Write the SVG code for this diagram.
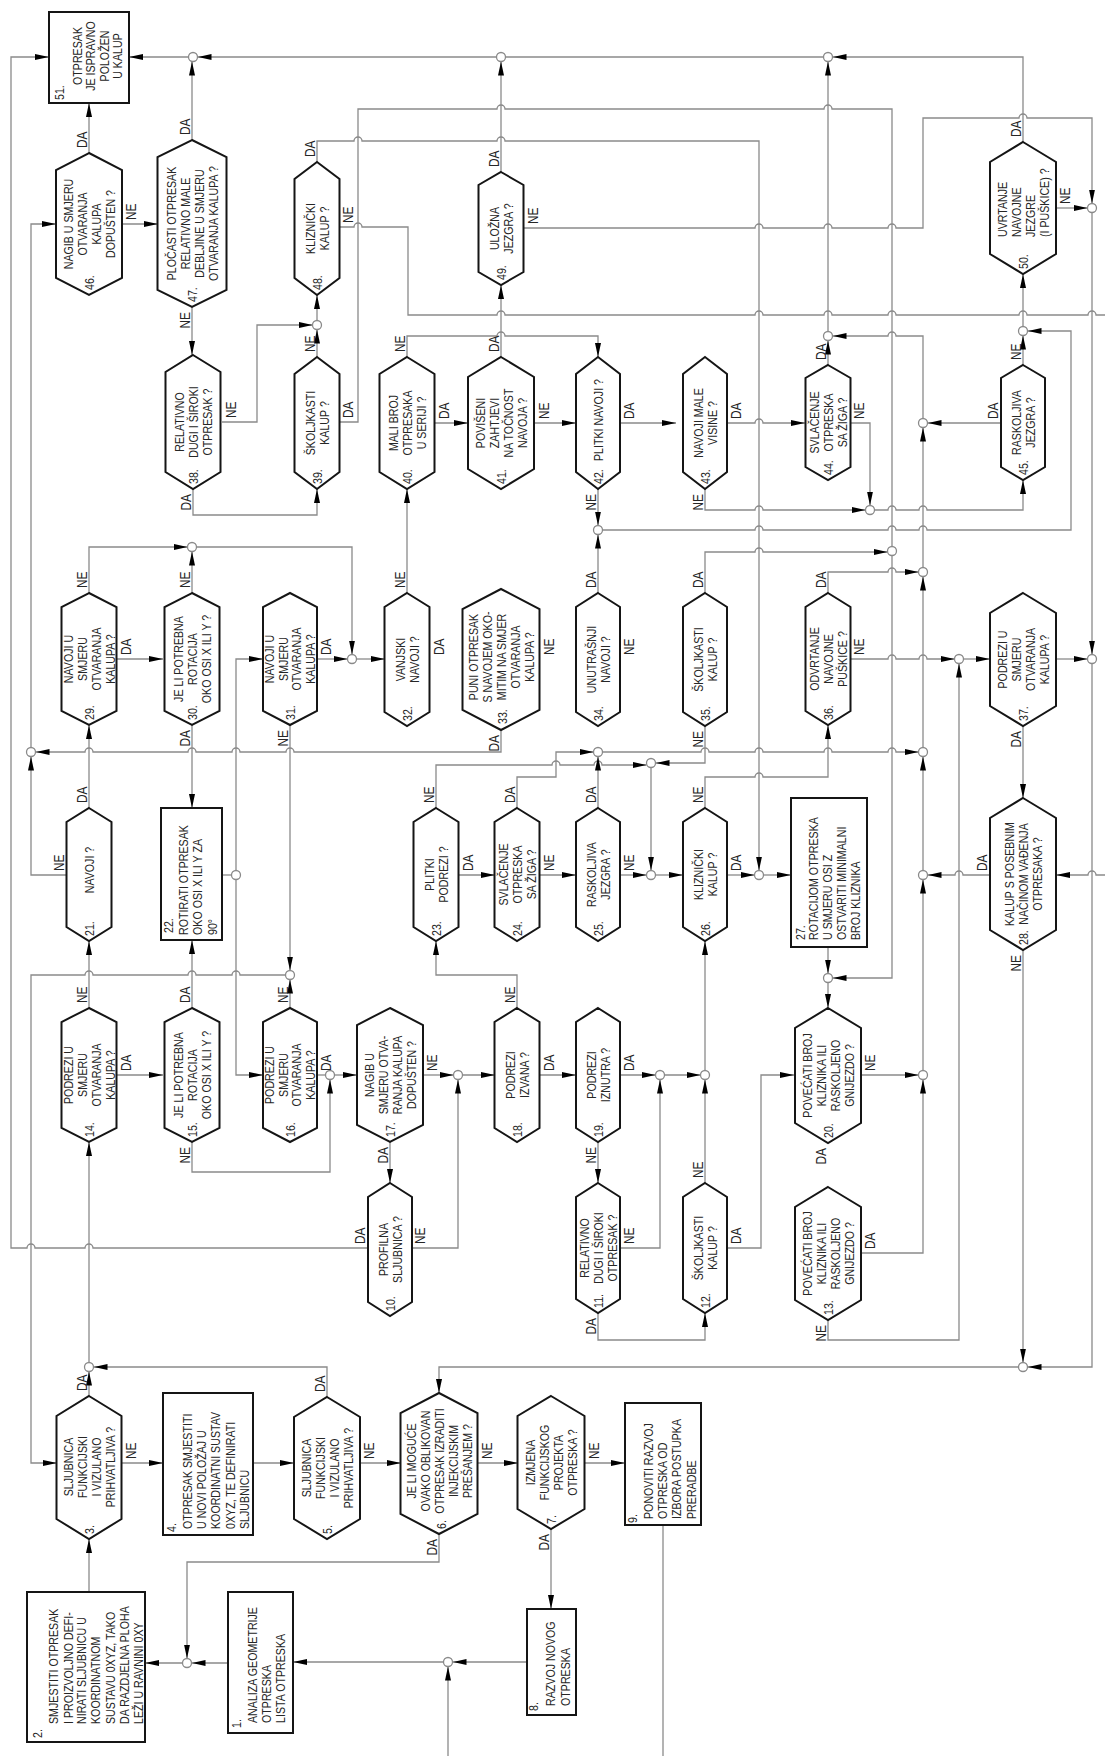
<svg xmlns="http://www.w3.org/2000/svg" width="1105" height="1756" viewBox="0 0 1105 1756">
<defs>
<marker id="ah" viewBox="0 0 14 6" markerWidth="14" markerHeight="6" refX="14" refY="3" orient="auto" markerUnits="userSpaceOnUse"><path d="M0,0 L14,3 L0,6 Z" fill="#000"/></marker>
<style>
.n{fill:#fff;stroke:#151515;stroke-width:2}
.c{fill:none;stroke:#8a8a8a;stroke-width:1.3}
.a{marker-end:url(#ah)}
.j{fill:#fff;stroke:#8a8a8a;stroke-width:1.3}
.t{font-family:"Liberation Sans",Arial,sans-serif;font-size:13px;fill:#262626}
.m{text-anchor:middle}
.l{font-family:"Liberation Sans",Arial,sans-serif;font-size:14px;fill:#262626}
.e{text-anchor:end}
</style>
</defs>
<rect width="1105" height="1756" fill="#fff"/>
<g id="connectors">
<path class="c a" d="M823.5,57 H197.5"/>
<path class="c a" d="M188.5,57 H129"/>
<path class="c a" d="M1023,142 V57 H832.5"/>
<path class="c a" d="M828,331.5 V61.5"/>
<path class="c a" d="M501,172 V61.5"/>
<path class="c a" d="M192,140 V61.5"/>
<path class="c a" d="M89,153 V103"/>
<path class="c a" d="M368,1248 H93 a4,4 0 0 0 -8,0 H35 a4,4 0 0 0 -8,0 H11 V57 H49"/>
<path class="c a" d="M31,747.5 V224 H56"/>
<path class="c a" d="M122,224 H158"/>
<path class="c a" d="M192,307 V355"/>
<path class="c a" d="M317,162 V141 H354 a4,4 0 0 1 8,0 H497 a4,4 0 0 1 8,0 H759 V870.5"/>
<path class="c" d="M339,227 H354 a4,4 0 0 1 8,0 H408 V315 H497 a4,4 0 0 1 8,0 H755 a4,4 0 0 1 8,0 H824 a4,4 0 0 1 8,0 H888 a4,4 0 0 1 8,0 H1019 a4,4 0 0 1 8,0 H1088 a4,4 0 0 1 8,0 H1105"/>
<path class="c a" d="M1105,875 H1096 a4,4 0 0 0 -8,0 H1056"/>
<path class="c a" d="M524,228 H755 a4,4 0 0 1 8,0 H824 a4,4 0 0 1 8,0 H888 a4,4 0 0 1 8,0 H923 V118 H1019 a4,4 0 0 1 8,0 H1092 V203.5"/>
<path class="c a" d="M1056,208 H1087.5"/>
<path class="c a" d="M1092,212.5 V654.5"/>
<path class="c" d="M339,422 H358 V109 H497 a4,4 0 0 1 8,0 H824 a4,4 0 0 1 8,0 H892 V546.5"/>
<path class="c a" d="M705,593 V552 H755 a4,4 0 0 1 8,0 H887.5"/>
<path class="c a" d="M892,555.5 V978 H832.5"/>
<path class="c a" d="M828,947 V973.5"/>
<path class="c a" d="M828,982.5 V1008"/>
<path class="c a" d="M861,1075 H918.5"/>
<path class="c a" d="M861,1253 H923 V1079.5"/>
<path class="c a" d="M923,1070.5 V879.5"/>
<path class="c a" d="M923,870.5 V756.5"/>
<path class="c a" d="M923,747.5 V576.5"/>
<path class="c a" d="M923,567.5 V427.5"/>
<path class="c a" d="M923,418.5 V336 H896 a4,4 0 0 0 -8,0 H832.5"/>
<path class="c a" d="M990,875 H963 a4,4 0 0 0 -8,0 H927.5"/>
<path class="c a" d="M828,593 V572 H888 a4,4 0 0 1 8,0 H918.5"/>
<path class="c a" d="M850,659 H888 a4,4 0 0 1 8,0 H919 a4,4 0 0 1 8,0 H954.5"/>
<path class="c a" d="M828,1320 V1340 H959 V663.5"/>
<path class="c a" d="M963.5,659 H990"/>
<path class="c a" d="M1056,659 H1087.5"/>
<path class="c a" d="M1092,663.5 V1367 H1027.5"/>
<path class="c a" d="M1023,726 V798"/>
<path class="c a" d="M1023,950 V1362.5"/>
<path class="c a" d="M1018.5,1367 H439 V1393"/>
<path class="c a" d="M1023,365 V335.5"/>
<path class="c a" d="M1023,326.5 V274"/>
<path class="c a" d="M602.5,530 H755 a4,4 0 0 1 8,0 H888 a4,4 0 0 1 8,0 H919 a4,4 0 0 1 8,0 H1071 V331 H1027.5"/>
<path class="c a" d="M598,593 V534.5"/>
<path class="c a" d="M598,489 V525.5"/>
<path class="c a" d="M705,489 V510 H755 a4,4 0 0 1 8,0 H865.5"/>
<path class="c a" d="M874.5,510 H888 a4,4 0 0 1 8,0 H919 a4,4 0 0 1 8,0 H1023 V480"/>
<path class="c a" d="M850,423 H870 V505.5"/>
<path class="c a" d="M828,365 V340.5"/>
<path class="c a" d="M1001,423 H927.5"/>
<path class="c a" d="M727,423 H755 a4,4 0 0 1 8,0 H805"/>
<path class="c a" d="M620,423 H676"/>
<path class="c a" d="M535,423 H576"/>
<path class="c a" d="M435,423 H468"/>
<path class="c a" d="M407,357 V336 H497 a4,4 0 0 1 8,0 H598 V357"/>
<path class="c a" d="M501,357 V285"/>
<path class="c a" d="M407,593 V489"/>
<path class="c a" d="M317,357 V329.5"/>
<path class="c a" d="M317,320.5 V295"/>
<path class="c a" d="M222,422 H257 V325 H312.5"/>
<path class="c a" d="M193,489 V515 H317 V489"/>
<path class="c a" d="M89,593 V547 H187.5"/>
<path class="c a" d="M192,593 V551.5"/>
<path class="c a" d="M196.5,547 H352 V654.5"/>
<path class="c a" d="M117,659 H163"/>
<path class="c a" d="M317,659 H347.5"/>
<path class="c a" d="M356.5,659 H385"/>
<path class="c a" d="M89,808 V725"/>
<path class="c a" d="M192,725 V808"/>
<path class="c a" d="M290,725 V970.5"/>
<path class="c a" d="M501,730 V752 H294 a4,4 0 0 0 -8,0 H240 a4,4 0 0 0 -8,0 H196 a4,4 0 0 0 -8,0 H93 a4,4 0 0 0 -8,0 H35.5"/>
<path class="c a" d="M67,875 H31 V756.5"/>
<path class="c" d="M222,875 H231.5"/>
<path class="c a" d="M236,870.5 V659 H263"/>
<path class="c a" d="M236,879.5 V1075 H263"/>
<path class="c a" d="M290,1008 V979.5"/>
<path class="c a" d="M285.5,975 H240 a4,4 0 0 0 -8,0 H196 a4,4 0 0 0 -8,0 H93 a4,4 0 0 0 -8,0 H31 V1463 H57"/>
<path class="c a" d="M89,1008 V941"/>
<path class="c a" d="M192,1008 V940"/>
<path class="c a" d="M117,1075 H163"/>
<path class="c a" d="M192,1142 V1172 H330 V1079.5"/>
<path class="c" d="M317,1075 H325.5"/>
<path class="c a" d="M334.5,1075 H357"/>
<path class="c a" d="M390,1142 V1183"/>
<path class="c a" d="M423,1075 H453.5"/>
<path class="c a" d="M462.5,1075 H495"/>
<path class="c a" d="M411,1248 H458 V1079.5"/>
<path class="c a" d="M517,1008 V975 H436 V941"/>
<path class="c a" d="M540,1075 H576"/>
<path class="c a" d="M620,1075 H655.5"/>
<path class="c a" d="M664.5,1075 H700.5"/>
<path class="c a" d="M705,1070.5 V941"/>
<path class="c a" d="M598,1142 V1183"/>
<path class="c a" d="M620,1248 H660 V1079.5"/>
<path class="c a" d="M705,1183 V1079.5"/>
<path class="c a" d="M598,1313 V1340 H705 V1313"/>
<path class="c a" d="M727,1248 H761 V1075 H794"/>
<path class="c a" d="M436,808 V765 H552 a4,4 0 0 1 8,0 H594 a4,4 0 0 1 8,0 H646.5"/>
<path class="c a" d="M517,808 V777 H556 V752 H593.5"/>
<path class="c a" d="M598,808 V756.5"/>
<path class="c a" d="M705,726 V763 H655.5"/>
<path class="c a" d="M651,767.5 V870.5"/>
<path class="c a" d="M459,875 H495"/>
<path class="c a" d="M540,875 H576"/>
<path class="c a" d="M620,875 H646.5"/>
<path class="c a" d="M655.5,875 H683"/>
<path class="c a" d="M602.5,752 H701 a4,4 0 0 1 8,0 H755 a4,4 0 0 1 8,0 H824 a4,4 0 0 1 8,0 H888 a4,4 0 0 1 8,0 H918.5"/>
<path class="c a" d="M705,808 V777 H755 a4,4 0 0 1 8,0 H828 V725"/>
<path class="c a" d="M727,875 H754.5"/>
<path class="c a" d="M763.5,875 H791"/>
<path class="c a" d="M89,1396 V1371.5"/>
<path class="c a" d="M89,1362.5 V1142"/>
<path class="c a" d="M327,1397 V1367 H93.5"/>
<path class="c a" d="M122,1463 H163"/>
<path class="c a" d="M253,1463 H294"/>
<path class="c a" d="M360,1463 H401"/>
<path class="c a" d="M478,1463 H518"/>
<path class="c a" d="M585,1463 H625"/>
<path class="c a" d="M89,1592 V1539"/>
<path class="c a" d="M439,1534 V1562 H187 V1658.5"/>
<path class="c a" d="M228,1663 H191.5"/>
<path class="c a" d="M182.5,1663 H145"/>
<path class="c a" d="M551,1529 V1609"/>
<path class="c a" d="M527,1662 H452.5"/>
<path class="c a" d="M443.5,1662 H293"/>
<path class="c a" d="M448,1756 V1666.5"/>
<path class="c" d="M663,1525 V1756"/>
<g id="junctions">
<circle class="j" cx="193" cy="57" r="4.5"/><circle class="j" cx="501" cy="57" r="4.5"/><circle class="j" cx="828" cy="57" r="4.5"/>
<circle class="j" cx="317" cy="325" r="4.5"/><circle class="j" cx="828" cy="336" r="4.5"/><circle class="j" cx="1023" cy="331" r="4.5"/>
<circle class="j" cx="1092" cy="208" r="4.5"/><circle class="j" cx="923" cy="423" r="4.5"/><circle class="j" cx="870" cy="510" r="4.5"/>
<circle class="j" cx="598" cy="530" r="4.5"/><circle class="j" cx="892" cy="551" r="4.5"/><circle class="j" cx="923" cy="572" r="4.5"/>
<circle class="j" cx="192" cy="547" r="4.5"/><circle class="j" cx="352" cy="659" r="4.5"/><circle class="j" cx="959" cy="659" r="4.5"/>
<circle class="j" cx="1092" cy="659" r="4.5"/><circle class="j" cx="31" cy="752" r="4.5"/><circle class="j" cx="598" cy="752" r="4.5"/>
<circle class="j" cx="923" cy="752" r="4.5"/><circle class="j" cx="651" cy="763" r="4.5"/><circle class="j" cx="236" cy="875" r="4.5"/>
<circle class="j" cx="651" cy="875" r="4.5"/><circle class="j" cx="759" cy="875" r="4.5"/><circle class="j" cx="923" cy="875" r="4.5"/>
<circle class="j" cx="290" cy="975" r="4.5"/><circle class="j" cx="828" cy="978" r="4.5"/><circle class="j" cx="330" cy="1075" r="4.5"/>
<circle class="j" cx="458" cy="1075" r="4.5"/><circle class="j" cx="660" cy="1075" r="4.5"/><circle class="j" cx="705" cy="1075" r="4.5"/>
<circle class="j" cx="923" cy="1075" r="4.5"/><circle class="j" cx="89" cy="1367" r="4.5"/><circle class="j" cx="1023" cy="1367" r="4.5"/>
<circle class="j" cx="187" cy="1663" r="4.5"/><circle class="j" cx="448" cy="1662" r="4.5"/>
</g>
</g>
<g id="labels">
<text class="l" transform="translate(0,148) rotate(-90) scale(.85,1)" y="87">DA</text>
<text class="l" transform="translate(0,220) rotate(-90) scale(.85,1)" y="136">NE</text>
<text class="l" transform="translate(0,135) rotate(-90) scale(.85,1)" y="190">DA</text>
<text class="l e" transform="translate(0,312) rotate(-90) scale(.85,1)" y="190">NE</text>
<text class="l" transform="translate(0,157) rotate(-90) scale(.85,1)" y="315">DA</text>
<text class="l" transform="translate(0,223) rotate(-90) scale(.85,1)" y="353">NE</text>
<text class="l" transform="translate(0,167) rotate(-90) scale(.85,1)" y="499">DA</text>
<text class="l" transform="translate(0,224) rotate(-90) scale(.85,1)" y="538">NE</text>
<text class="l" transform="translate(0,137) rotate(-90) scale(.85,1)" y="1021">DA</text>
<text class="l" transform="translate(0,204) rotate(-90) scale(.85,1)" y="1070">NE</text>
<text class="l" transform="translate(0,418) rotate(-90) scale(.85,1)" y="236">NE</text>
<text class="l e" transform="translate(0,494) rotate(-90) scale(.85,1)" y="191">DA</text>
<text class="l" transform="translate(0,352) rotate(-90) scale(.85,1)" y="315">NE</text>
<text class="l" transform="translate(0,418) rotate(-90) scale(.85,1)" y="353">DA</text>
<text class="l" transform="translate(0,352) rotate(-90) scale(.85,1)" y="405">NE</text>
<text class="l" transform="translate(0,419) rotate(-90) scale(.85,1)" y="449">DA</text>
<text class="l" transform="translate(0,352) rotate(-90) scale(.85,1)" y="499">DA</text>
<text class="l" transform="translate(0,419) rotate(-90) scale(.85,1)" y="549">NE</text>
<text class="l e" transform="translate(0,494) rotate(-90) scale(.85,1)" y="596">NE</text>
<text class="l" transform="translate(0,419) rotate(-90) scale(.85,1)" y="634">DA</text>
<text class="l e" transform="translate(0,494) rotate(-90) scale(.85,1)" y="703">NE</text>
<text class="l" transform="translate(0,419) rotate(-90) scale(.85,1)" y="741">DA</text>
<text class="l" transform="translate(0,360) rotate(-90) scale(.85,1)" y="826">DA</text>
<text class="l" transform="translate(0,419) rotate(-90) scale(.85,1)" y="864">NE</text>
<text class="l" transform="translate(0,360) rotate(-90) scale(.85,1)" y="1021">NE</text>
<text class="l" transform="translate(0,419) rotate(-90) scale(.85,1)" y="998">DA</text>
<text class="l" transform="translate(0,588) rotate(-90) scale(.85,1)" y="87">NE</text>
<text class="l" transform="translate(0,655) rotate(-90) scale(.85,1)" y="131">DA</text>
<text class="l" transform="translate(0,588) rotate(-90) scale(.85,1)" y="190">NE</text>
<text class="l e" transform="translate(0,730) rotate(-90) scale(.85,1)" y="190">DA</text>
<text class="l" transform="translate(0,655) rotate(-90) scale(.85,1)" y="331">DA</text>
<text class="l e" transform="translate(0,730) rotate(-90) scale(.85,1)" y="288">NE</text>
<text class="l" transform="translate(0,588) rotate(-90) scale(.85,1)" y="405">NE</text>
<text class="l" transform="translate(0,655) rotate(-90) scale(.85,1)" y="444">DA</text>
<text class="l" transform="translate(0,655) rotate(-90) scale(.85,1)" y="554">NE</text>
<text class="l e" transform="translate(0,735) rotate(-90) scale(.85,1)" y="499">DA</text>
<text class="l" transform="translate(0,588) rotate(-90) scale(.85,1)" y="596">DA</text>
<text class="l" transform="translate(0,655) rotate(-90) scale(.85,1)" y="634">NE</text>
<text class="l" transform="translate(0,588) rotate(-90) scale(.85,1)" y="703">DA</text>
<text class="l e" transform="translate(0,731) rotate(-90) scale(.85,1)" y="703">NE</text>
<text class="l" transform="translate(0,588) rotate(-90) scale(.85,1)" y="826">DA</text>
<text class="l" transform="translate(0,655) rotate(-90) scale(.85,1)" y="864">NE</text>
<text class="l e" transform="translate(0,731) rotate(-90) scale(.85,1)" y="1021">DA</text>
<text class="l" transform="translate(0,803) rotate(-90) scale(.85,1)" y="87">DA</text>
<text class="l" transform="translate(0,871) rotate(-90) scale(.85,1)" y="64">NE</text>
<text class="l" transform="translate(0,803) rotate(-90) scale(.85,1)" y="434">NE</text>
<text class="l" transform="translate(0,871) rotate(-90) scale(.85,1)" y="473">DA</text>
<text class="l" transform="translate(0,803) rotate(-90) scale(.85,1)" y="515">DA</text>
<text class="l" transform="translate(0,871) rotate(-90) scale(.85,1)" y="554">NE</text>
<text class="l" transform="translate(0,803) rotate(-90) scale(.85,1)" y="596">DA</text>
<text class="l" transform="translate(0,871) rotate(-90) scale(.85,1)" y="634">NE</text>
<text class="l" transform="translate(0,803) rotate(-90) scale(.85,1)" y="703">NE</text>
<text class="l" transform="translate(0,871) rotate(-90) scale(.85,1)" y="741">DA</text>
<text class="l" transform="translate(0,871) rotate(-90) scale(.85,1)" y="987">DA</text>
<text class="l e" transform="translate(0,955) rotate(-90) scale(.85,1)" y="1021">NE</text>
<text class="l" transform="translate(0,1003) rotate(-90) scale(.85,1)" y="87">NE</text>
<text class="l" transform="translate(0,1071) rotate(-90) scale(.85,1)" y="131">DA</text>
<text class="l" transform="translate(0,1003) rotate(-90) scale(.85,1)" y="190">DA</text>
<text class="l e" transform="translate(0,1147) rotate(-90) scale(.85,1)" y="190">NE</text>
<text class="l" transform="translate(0,1003) rotate(-90) scale(.85,1)" y="288">NE</text>
<text class="l" transform="translate(0,1071) rotate(-90) scale(.85,1)" y="331">DA</text>
<text class="l" transform="translate(0,1071) rotate(-90) scale(.85,1)" y="437">NE</text>
<text class="l e" transform="translate(0,1147) rotate(-90) scale(.85,1)" y="388">DA</text>
<text class="l" transform="translate(0,1003) rotate(-90) scale(.85,1)" y="515">NE</text>
<text class="l" transform="translate(0,1071) rotate(-90) scale(.85,1)" y="554">DA</text>
<text class="l" transform="translate(0,1071) rotate(-90) scale(.85,1)" y="634">DA</text>
<text class="l e" transform="translate(0,1147) rotate(-90) scale(.85,1)" y="596">NE</text>
<text class="l" transform="translate(0,1071) rotate(-90) scale(.85,1)" y="875">NE</text>
<text class="l e" transform="translate(0,1148) rotate(-90) scale(.85,1)" y="826">DA</text>
<text class="l" transform="translate(0,1244) rotate(-90) scale(.85,1)" y="365">DA</text>
<text class="l" transform="translate(0,1244) rotate(-90) scale(.85,1)" y="425">NE</text>
<text class="l" transform="translate(0,1244) rotate(-90) scale(.85,1)" y="634">NE</text>
<text class="l e" transform="translate(0,1318) rotate(-90) scale(.85,1)" y="596">DA</text>
<text class="l" transform="translate(0,1178) rotate(-90) scale(.85,1)" y="703">NE</text>
<text class="l" transform="translate(0,1244) rotate(-90) scale(.85,1)" y="741">DA</text>
<text class="l" transform="translate(0,1249) rotate(-90) scale(.85,1)" y="875">DA</text>
<text class="l e" transform="translate(0,1325) rotate(-90) scale(.85,1)" y="826">NE</text>
<text class="l" transform="translate(0,1391) rotate(-90) scale(.85,1)" y="87">DA</text>
<text class="l" transform="translate(0,1459) rotate(-90) scale(.85,1)" y="136">NE</text>
<text class="l" transform="translate(0,1392) rotate(-90) scale(.85,1)" y="325">DA</text>
<text class="l" transform="translate(0,1459) rotate(-90) scale(.85,1)" y="374">NE</text>
<text class="l" transform="translate(0,1459) rotate(-90) scale(.85,1)" y="492">NE</text>
<text class="l e" transform="translate(0,1539) rotate(-90) scale(.85,1)" y="437">DA</text>
<text class="l" transform="translate(0,1459) rotate(-90) scale(.85,1)" y="599">NE</text>
<text class="l e" transform="translate(0,1534) rotate(-90) scale(.85,1)" y="549">DA</text>
</g>
<g id="n51"><rect class="n" x="49" y="12" width="80" height="91"/><text class="t" transform="translate(0,100) rotate(-90) scale(.82,1)" y="64">51.</text><text class="t m" transform="translate(0,56) rotate(-90) scale(.82,1)"><tspan x="0" y="82">OTPRESAK</tspan><tspan x="0" y="95.5">JE ISPRAVNO</tspan><tspan x="0" y="109">POLOŽEN</tspan><tspan x="0" y="122.5">U KALUP</tspan></text></g>
<g id="n46"><polygon class="n" points="89,153 122,170 122,278 89,295 56,278 56,170"/><text class="t m" transform="translate(0,224) rotate(-90) scale(.82,1)"><tspan x="0" y="72.6">NAGIB U SMJERU</tspan><tspan x="0" y="86.6">OTVARANJA</tspan><tspan x="0" y="100.6">KALUPA</tspan><tspan x="0" y="114.6">DOPUŠTEN ?</tspan></text><text class="t" transform="translate(0,290) rotate(-90) scale(.82,1)" y="94">46.</text></g>
<g id="n47"><polygon class="n" points="192,140 226.5,157 226.5,290 192,307 157.5,290 157.5,157"/><text class="t m" transform="translate(0,223.5) rotate(-90) scale(.82,1)"><tspan x="0" y="175.6">PLOČASTI OTPRESAK</tspan><tspan x="0" y="189.6">RELATIVNO MALE</tspan><tspan x="0" y="203.6">DEBLJINE U SMJERU</tspan><tspan x="0" y="217.6">OTVARANJA KALUPA ?</tspan></text><text class="t" transform="translate(0,302) rotate(-90) scale(.82,1)" y="197">47.</text></g>
<g id="n48"><polygon class="n" points="317,162 339.5,179 339.5,278 317,295 294.5,278 294.5,179"/><text class="t m" transform="translate(0,228.5) rotate(-90) scale(.82,1)"><tspan x="0" y="314.6">KLIZNIČKI</tspan><tspan x="0" y="328.6">KALUP ?</tspan></text><text class="t" transform="translate(0,290) rotate(-90) scale(.82,1)" y="322">48.</text></g>
<g id="n49"><polygon class="n" points="501,172 523.5,185 523.5,272 501,285 478.5,272 478.5,185"/><text class="t m" transform="translate(0,228.5) rotate(-90) scale(.82,1)"><tspan x="0" y="498.6">ULOŽNA</tspan><tspan x="0" y="512.6">JEZGRA ?</tspan></text><text class="t" transform="translate(0,280) rotate(-90) scale(.82,1)" y="506">49.</text></g>
<g id="n50"><polygon class="n" points="1023,142 1056,162 1056,254 1023,274 990,254 990,162"/><text class="t" transform="translate(0,237) rotate(-90) scale(.82,1)"><tspan x="0" y="1006.6">UVRTANJE</tspan><tspan x="0" y="1020.6">NAVOJNE</tspan><tspan x="0" y="1034.6">JEZGRE</tspan><tspan x="0" y="1048.6">(I PUŠKICE) ?</tspan></text><text class="t" transform="translate(0,269) rotate(-90) scale(.82,1)" y="1028">50.</text></g>
<g id="n38"><polygon class="n" points="193,355 220.5,372 220.5,472 193,489 165.5,472 165.5,372"/><text class="t m" transform="translate(0,422) rotate(-90) scale(.82,1)"><tspan x="0" y="183.6">RELATIVNO</tspan><tspan x="0" y="197.6">DUGI I ŠIROKI</tspan><tspan x="0" y="211.6">OTPRESAK ?</tspan></text><text class="t" transform="translate(0,484) rotate(-90) scale(.82,1)" y="198">38.</text></g>
<g id="n39"><polygon class="n" points="317,357 339.5,374 339.5,472 317,489 294.5,472 294.5,374"/><text class="t m" transform="translate(0,423) rotate(-90) scale(.82,1)"><tspan x="0" y="314.6">ŠKOLJKASTI</tspan><tspan x="0" y="328.6">KALUP ?</tspan></text><text class="t" transform="translate(0,484) rotate(-90) scale(.82,1)" y="322">39.</text></g>
<g id="n40"><polygon class="n" points="407,357 434.5,374 434.5,472 407,489 379.5,472 379.5,374"/><text class="t m" transform="translate(0,423) rotate(-90) scale(.82,1)"><tspan x="0" y="397.6">MALI BROJ</tspan><tspan x="0" y="411.6">OTPRESAKA</tspan><tspan x="0" y="425.6">U SERIJI ?</tspan></text><text class="t" transform="translate(0,484) rotate(-90) scale(.82,1)" y="412">40.</text></g>
<g id="n41"><polygon class="n" points="501,357 534,377 534,469 501,489 468,469 468,377"/><text class="t m" transform="translate(0,423) rotate(-90) scale(.82,1)"><tspan x="0" y="484.6">POVIŠENI</tspan><tspan x="0" y="498.6">ZAHTJEVI</tspan><tspan x="0" y="512.6">NA TOČNOST</tspan><tspan x="0" y="526.6">NAVOJA ?</tspan></text><text class="t" transform="translate(0,484) rotate(-90) scale(.82,1)" y="506">41.</text></g>
<g id="n42"><polygon class="n" points="598,357 620,374 620,472 598,489 576,472 576,374"/><text class="t m" transform="translate(0,420) rotate(-90) scale(.82,1)"><tspan x="0" y="602.6">PLITKI NAVOJI ?</tspan></text><text class="t" transform="translate(0,484) rotate(-90) scale(.82,1)" y="603">42.</text></g>
<g id="n43"><polygon class="n" points="705,357 727,374 727,472 705,489 683,472 683,374"/><text class="t m" transform="translate(0,423) rotate(-90) scale(.82,1)"><tspan x="0" y="702.6">NAVOJI MALE</tspan><tspan x="0" y="716.6">VISINE ?</tspan></text><text class="t" transform="translate(0,484) rotate(-90) scale(.82,1)" y="710">43.</text></g>
<g id="n44"><polygon class="n" points="828,365 850.5,378 850.5,467 828,480 805.5,467 805.5,378"/><text class="t m" transform="translate(0,422.5) rotate(-90) scale(.82,1)"><tspan x="0" y="818.6">SVLAČENJE</tspan><tspan x="0" y="832.6">OTPRESKA</tspan><tspan x="0" y="846.6">SA ŽIGA ?</tspan></text><text class="t" transform="translate(0,475) rotate(-90) scale(.82,1)" y="833">44.</text></g>
<g id="n45"><polygon class="n" points="1023,365 1045,378 1045,467 1023,480 1001,467 1001,378"/><text class="t m" transform="translate(0,422.5) rotate(-90) scale(.82,1)"><tspan x="0" y="1020.6">RASKOLJIVA</tspan><tspan x="0" y="1034.6">JEZGRA ?</tspan></text><text class="t" transform="translate(0,475) rotate(-90) scale(.82,1)" y="1028">45.</text></g>
<g id="n29"><polygon class="n" points="89,593 116.5,607 116.5,711 89,725 61.5,711 61.5,607"/><text class="t m" transform="translate(0,659) rotate(-90) scale(.82,1)"><tspan x="0" y="72.6">NAVOJI U</tspan><tspan x="0" y="86.6">SMJERU</tspan><tspan x="0" y="100.6">OTVARANJA</tspan><tspan x="0" y="114.6">KALUPA ?</tspan></text><text class="t" transform="translate(0,720) rotate(-90) scale(.82,1)" y="94">29.</text></g>
<g id="n30"><polygon class="n" points="192,593 219.5,607 219.5,711 192,725 164.5,711 164.5,607"/><text class="t m" transform="translate(0,659) rotate(-90) scale(.82,1)"><tspan x="0" y="182.6">JE LI POTREBNA</tspan><tspan x="0" y="196.6">ROTACIJA</tspan><tspan x="0" y="210.6">OKO OSI X ILI Y ?</tspan></text><text class="t" transform="translate(0,720) rotate(-90) scale(.82,1)" y="197">30.</text></g>
<g id="n31"><polygon class="n" points="290,593 317,607 317,711 290,725 263,711 263,607"/><text class="t m" transform="translate(0,659) rotate(-90) scale(.82,1)"><tspan x="0" y="274">NAVOJI U</tspan><tspan x="0" y="287.6">SMJERU</tspan><tspan x="0" y="301.2">OTVARANJA</tspan><tspan x="0" y="314.8">KALUPA ?</tspan></text><text class="t" transform="translate(0,720) rotate(-90) scale(.82,1)" y="295">31.</text></g>
<g id="n32"><polygon class="n" points="407,593 429.5,607 429.5,712 407,726 384.5,712 384.5,607"/><text class="t m" transform="translate(0,659.5) rotate(-90) scale(.82,1)"><tspan x="0" y="404.6">VANJSKI</tspan><tspan x="0" y="418.6">NAVOJI ?</tspan></text><text class="t" transform="translate(0,721) rotate(-90) scale(.82,1)" y="412">32.</text></g>
<g id="n33"><polygon class="n" points="501,589 539.5,609 539.5,710 501,730 462.5,710 462.5,609"/><text class="t m" transform="translate(0,657) rotate(-90) scale(.82,1)"><tspan x="0" y="477.6">PUNI OTPRESAK</tspan><tspan x="0" y="491.6">S NAVOJEM OKO-</tspan><tspan x="0" y="505.6">MITIM NA SMJER</tspan><tspan x="0" y="519.6">OTVARANJA</tspan><tspan x="0" y="533.6">KALUPA ?</tspan></text><text class="t" transform="translate(0,724) rotate(-90) scale(.82,1)" y="507">33.</text></g>
<g id="n34"><polygon class="n" points="598,593 620,607 620,712 598,726 576,712 576,607"/><text class="t m" transform="translate(0,659.5) rotate(-90) scale(.82,1)"><tspan x="0" y="595.6">UNUTRAŠNJI</tspan><tspan x="0" y="609.6">NAVOJI ?</tspan></text><text class="t" transform="translate(0,721) rotate(-90) scale(.82,1)" y="603">34.</text></g>
<g id="n35"><polygon class="n" points="705,593 727,607 727,712 705,726 683,712 683,607"/><text class="t m" transform="translate(0,659.5) rotate(-90) scale(.82,1)"><tspan x="0" y="702.6">ŠKOLJKASTI</tspan><tspan x="0" y="716.6">KALUP ?</tspan></text><text class="t" transform="translate(0,721) rotate(-90) scale(.82,1)" y="710">35.</text></g>
<g id="n36"><polygon class="n" points="828,593 850.5,607 850.5,711 828,725 805.5,711 805.5,607"/><text class="t m" transform="translate(0,659) rotate(-90) scale(.82,1)"><tspan x="0" y="818.6">ODVRTANJE</tspan><tspan x="0" y="832.6">NAVOJNE</tspan><tspan x="0" y="846.6">PUŠKICE ?</tspan></text><text class="t" transform="translate(0,720) rotate(-90) scale(.82,1)" y="833">36.</text></g>
<g id="n37"><polygon class="n" points="1023,593 1056,613 1056,706 1023,726 990,706 990,613"/><text class="t m" transform="translate(0,659.5) rotate(-90) scale(.82,1)"><tspan x="0" y="1006.6">PODREZI U</tspan><tspan x="0" y="1020.6">SMJERU</tspan><tspan x="0" y="1034.6">OTVARANJA</tspan><tspan x="0" y="1048.6">KALUPA ?</tspan></text><text class="t" transform="translate(0,721) rotate(-90) scale(.82,1)" y="1028">37.</text></g>
<g id="n21"><polygon class="n" points="89,808 111.5,822 111.5,927 89,941 66.5,927 66.5,822"/><text class="t m" transform="translate(0,870) rotate(-90) scale(.82,1)"><tspan x="0" y="93.6">NAVOJI ?</tspan></text><text class="t" transform="translate(0,936) rotate(-90) scale(.82,1)" y="94">21.</text></g>
<g id="n22"><rect class="n" x="161" y="808" width="61" height="132"/><text class="t" transform="translate(0,933) rotate(-90) scale(.82,1)" y="173">22.</text><text class="t" transform="translate(0,935) rotate(-90) scale(.82,1)"><tspan x="0" y="188">ROTIRATI OTPRESAK</tspan><tspan x="0" y="202.5">OKO OSI X ILI Y ZA</tspan><tspan x="0" y="217">90°</tspan></text></g>
<g id="n23"><polygon class="n" points="436,808 458.5,822 458.5,927 436,941 413.5,927 413.5,822"/><text class="t m" transform="translate(0,874.5) rotate(-90) scale(.82,1)"><tspan x="0" y="433.6">PLITKI</tspan><tspan x="0" y="447.6">PODREZI ?</tspan></text><text class="t" transform="translate(0,936) rotate(-90) scale(.82,1)" y="441">23.</text></g>
<g id="n24"><polygon class="n" points="517,808 539.5,822 539.5,927 517,941 494.5,927 494.5,822"/><text class="t m" transform="translate(0,874.5) rotate(-90) scale(.82,1)"><tspan x="0" y="507.6">SVLAČENJE</tspan><tspan x="0" y="521.6">OTPRESKA</tspan><tspan x="0" y="535.6">SA ŽIGA ?</tspan></text><text class="t" transform="translate(0,936) rotate(-90) scale(.82,1)" y="522">24.</text></g>
<g id="n25"><polygon class="n" points="598,808 620,822 620,927 598,941 576,927 576,822"/><text class="t m" transform="translate(0,874.5) rotate(-90) scale(.82,1)"><tspan x="0" y="595.6">RASKOLJIVA</tspan><tspan x="0" y="609.6">JEZGRA ?</tspan></text><text class="t" transform="translate(0,936) rotate(-90) scale(.82,1)" y="603">25.</text></g>
<g id="n26"><polygon class="n" points="705,808 727,822 727,927 705,941 683,927 683,822"/><text class="t m" transform="translate(0,874.5) rotate(-90) scale(.82,1)"><tspan x="0" y="702.6">KLIZNIČKI</tspan><tspan x="0" y="716.6">KALUP ?</tspan></text><text class="t" transform="translate(0,936) rotate(-90) scale(.82,1)" y="710">26.</text></g>
<g id="n27"><rect class="n" x="791" y="798" width="76" height="149"/><text class="t" transform="translate(0,940) rotate(-90) scale(.82,1)" y="805">27.</text><text class="t" transform="translate(0,940) rotate(-90) scale(.82,1)"><tspan x="0" y="818">ROTACIJOM OTPRESKA</tspan><tspan x="0" y="832">U SMJERU OSI Z</tspan><tspan x="0" y="846">OSTVARITI MINIMALNI</tspan><tspan x="0" y="860">BROJ KLIZNIKA</tspan></text></g>
<g id="n28"><polygon class="n" points="1023,798 1056,818 1056,930 1023,950 990,930 990,818"/><text class="t m" transform="translate(0,874) rotate(-90) scale(.82,1)"><tspan x="0" y="1013.6">KALUP S POSEBNIM</tspan><tspan x="0" y="1027.6">NAČINOM VAĐENJA</tspan><tspan x="0" y="1041.6">OTPRESAKA ?</tspan></text><text class="t" transform="translate(0,945) rotate(-90) scale(.82,1)" y="1028">28.</text></g>
<g id="n14"><polygon class="n" points="89,1008 116.5,1022 116.5,1128 89,1142 61.5,1128 61.5,1022"/><text class="t m" transform="translate(0,1075) rotate(-90) scale(.82,1)"><tspan x="0" y="72.6">PODREZI U</tspan><tspan x="0" y="86.6">SMJERU</tspan><tspan x="0" y="100.6">OTVARANJA</tspan><tspan x="0" y="114.6">KALUPA ?</tspan></text><text class="t" transform="translate(0,1137) rotate(-90) scale(.82,1)" y="94">14.</text></g>
<g id="n15"><polygon class="n" points="192,1008 219.5,1022 219.5,1128 192,1142 164.5,1128 164.5,1022"/><text class="t m" transform="translate(0,1075) rotate(-90) scale(.82,1)"><tspan x="0" y="182.6">JE LI POTREBNA</tspan><tspan x="0" y="196.6">ROTACIJA</tspan><tspan x="0" y="210.6">OKO OSI X ILI Y ?</tspan></text><text class="t" transform="translate(0,1137) rotate(-90) scale(.82,1)" y="197">15.</text></g>
<g id="n16"><polygon class="n" points="290,1008 317,1022 317,1128 290,1142 263,1128 263,1022"/><text class="t m" transform="translate(0,1075) rotate(-90) scale(.82,1)"><tspan x="0" y="274">PODREZI U</tspan><tspan x="0" y="287.6">SMJERU</tspan><tspan x="0" y="301.2">OTVARANJA</tspan><tspan x="0" y="314.8">KALUPA ?</tspan></text><text class="t" transform="translate(0,1137) rotate(-90) scale(.82,1)" y="295">16.</text></g>
<g id="n17"><polygon class="n" points="390,1008 423,1025 423,1125 390,1142 357,1125 357,1025"/><text class="t m" transform="translate(0,1075) rotate(-90) scale(.82,1)"><tspan x="0" y="373.6">NAGIB U</tspan><tspan x="0" y="387.6">SMJERU OTVA-</tspan><tspan x="0" y="401.6">RANJA KALUPA</tspan><tspan x="0" y="415.6">DOPUŠTEN ?</tspan></text><text class="t" transform="translate(0,1137) rotate(-90) scale(.82,1)" y="395">17.</text></g>
<g id="n18"><polygon class="n" points="517,1008 539.5,1022 539.5,1128 517,1142 494.5,1128 494.5,1022"/><text class="t m" transform="translate(0,1075) rotate(-90) scale(.82,1)"><tspan x="0" y="514.6">PODREZI</tspan><tspan x="0" y="528.6">IZVANA ?</tspan></text><text class="t" transform="translate(0,1137) rotate(-90) scale(.82,1)" y="522">18.</text></g>
<g id="n19"><polygon class="n" points="598,1008 620,1022 620,1128 598,1142 576,1128 576,1022"/><text class="t m" transform="translate(0,1075) rotate(-90) scale(.82,1)"><tspan x="0" y="595.6">PODREZI</tspan><tspan x="0" y="609.6">IZNUTRA ?</tspan></text><text class="t" transform="translate(0,1137) rotate(-90) scale(.82,1)" y="603">19.</text></g>
<g id="n20"><polygon class="n" points="828,1008 861,1028 861,1123 828,1143 795,1123 795,1028"/><text class="t m" transform="translate(0,1075.5) rotate(-90) scale(.82,1)"><tspan x="0" y="811.6">POVEĆATI BROJ</tspan><tspan x="0" y="825.6">KLIZNIKA ILI</tspan><tspan x="0" y="839.6">RASKOLJENO</tspan><tspan x="0" y="853.6">GNIJEZDO ?</tspan></text><text class="t" transform="translate(0,1138) rotate(-90) scale(.82,1)" y="833">20.</text></g>
<g id="n10"><polygon class="n" points="390,1183 412,1197 412,1302 390,1316 368,1302 368,1197"/><text class="t m" transform="translate(0,1249.5) rotate(-90) scale(.82,1)"><tspan x="0" y="387.6">PROFILNA</tspan><tspan x="0" y="401.6">SLJUBNICA ?</tspan></text><text class="t" transform="translate(0,1311) rotate(-90) scale(.82,1)" y="395">10.</text></g>
<g id="n11"><polygon class="n" points="598,1183 620,1197 620,1299 598,1313 576,1299 576,1197"/><text class="t m" transform="translate(0,1248) rotate(-90) scale(.82,1)"><tspan x="0" y="588.6">RELATIVNO</tspan><tspan x="0" y="602.6">DUGI I ŠIROKI</tspan><tspan x="0" y="616.6">OTPRESAK ?</tspan></text><text class="t" transform="translate(0,1308) rotate(-90) scale(.82,1)" y="603">11.</text></g>
<g id="n12"><polygon class="n" points="705,1183 727,1197 727,1299 705,1313 683,1299 683,1197"/><text class="t m" transform="translate(0,1248) rotate(-90) scale(.82,1)"><tspan x="0" y="702.6">ŠKOLJKASTI</tspan><tspan x="0" y="716.6">KALUP ?</tspan></text><text class="t" transform="translate(0,1308) rotate(-90) scale(.82,1)" y="710">12.</text></g>
<g id="n13"><polygon class="n" points="828,1187 861,1207 861,1300 828,1320 795,1300 795,1207"/><text class="t m" transform="translate(0,1253.5) rotate(-90) scale(.82,1)"><tspan x="0" y="811.6">POVEĆATI BROJ</tspan><tspan x="0" y="825.6">KLIZNIKA ILI</tspan><tspan x="0" y="839.6">RASKOLJENO</tspan><tspan x="0" y="853.6">GNIJEZDO ?</tspan></text><text class="t" transform="translate(0,1315) rotate(-90) scale(.82,1)" y="833">13.</text></g>
<g id="n3"><polygon class="n" points="89,1396 121.5,1416 121.5,1519 89,1539 56.5,1519 56.5,1416"/><text class="t m" transform="translate(0,1467) rotate(-90) scale(.82,1)"><tspan x="0" y="72.6">SLJUBNICA</tspan><tspan x="0" y="86.6">FUNKCIJSKI</tspan><tspan x="0" y="100.6">I VIZULANO</tspan><tspan x="0" y="114.6">PRIHVATLJIVA ?</tspan></text><text class="t" transform="translate(0,1534) rotate(-90) scale(.82,1)" y="94">3.</text></g>
<g id="n4"><rect class="n" x="163" y="1393" width="90" height="142"/><text class="t" transform="translate(0,1532) rotate(-90) scale(.82,1)" y="176">4.</text><text class="t" transform="translate(0,1529) rotate(-90) scale(.82,1)"><tspan x="0" y="192">OTPRESAK SMJESTITI</tspan><tspan x="0" y="206.5">U NOVI POLOŽAJ U</tspan><tspan x="0" y="220.5">KOORDINATNI SUSTAV</tspan><tspan x="0" y="235">0XYZ, TE DEFINIRATI</tspan><tspan x="0" y="249.5">SLJUBNICU</tspan></text></g>
<g id="n5"><polygon class="n" points="327,1397 360,1417 360,1519 327,1539 294,1519 294,1417"/><text class="t m" transform="translate(0,1468) rotate(-90) scale(.82,1)"><tspan x="0" y="310.6">SLJUBNICA</tspan><tspan x="0" y="324.6">FUNKCIJSKI</tspan><tspan x="0" y="338.6">I VIZULANO</tspan><tspan x="0" y="352.6">PRIHVATLJIVA ?</tspan></text><text class="t" transform="translate(0,1534) rotate(-90) scale(.82,1)" y="332">5.</text></g>
<g id="n6"><polygon class="n" points="439,1393 477.5,1413 477.5,1514 439,1534 400.5,1514 400.5,1413"/><text class="t m" transform="translate(0,1461) rotate(-90) scale(.82,1)"><tspan x="0" y="415.6">JE LI MOGUĆE</tspan><tspan x="0" y="429.6">OVAKO OBLIKOVAN</tspan><tspan x="0" y="443.6">OTPRESAK IZRADITI</tspan><tspan x="0" y="457.6">INJEKCIJSKIM</tspan><tspan x="0" y="471.6">PREŠANJEM ?</tspan></text><text class="t" transform="translate(0,1529) rotate(-90) scale(.82,1)" y="446">6.</text></g>
<g id="n7"><polygon class="n" points="551,1396 584.5,1416 584.5,1509 551,1529 517.5,1509 517.5,1416"/><text class="t m" transform="translate(0,1462.5) rotate(-90) scale(.82,1)"><tspan x="0" y="534.6">IZMJENA</tspan><tspan x="0" y="548.6">FUNKCIJSKOG</tspan><tspan x="0" y="562.6">PROJEKTA</tspan><tspan x="0" y="576.6">OTPRESKA ?</tspan></text><text class="t" transform="translate(0,1524) rotate(-90) scale(.82,1)" y="556">7.</text></g>
<g id="n9"><rect class="n" x="625" y="1403" width="76" height="122"/><text class="t" transform="translate(0,1523) rotate(-90) scale(.82,1)" y="637">9.</text><text class="t" transform="translate(0,1519) rotate(-90) scale(.82,1)"><tspan x="0" y="653">PONOVITI RAZVOJ</tspan><tspan x="0" y="667.5">OTPRESKA OD</tspan><tspan x="0" y="681.5">IZBORA POSTUPKA</tspan><tspan x="0" y="696">PRERADBE</tspan></text></g>
<g id="n8"><rect class="n" x="527" y="1609" width="49" height="106"/><text class="t" transform="translate(0,1711) rotate(-90) scale(.82,1)" y="538">8.</text><text class="t" transform="translate(0,1706) rotate(-90) scale(.82,1)"><tspan x="0" y="555">RAZVOJ NOVOG</tspan><tspan x="0" y="570">OTPRESKA</tspan></text></g>
<g id="n2"><rect class="n" x="27" y="1592" width="118" height="150"/><text class="t" transform="translate(0,1738) rotate(-90) scale(.82,1)" y="42">2.</text><text class="t" transform="translate(0,1724) rotate(-90) scale(.82,1)"><tspan x="0" y="58">SMJESTITI OTPRESAK</tspan><tspan x="0" y="72.5">I PROIZVOLJNO DEFI-</tspan><tspan x="0" y="86.5">NIRATI SLJUBNICU U</tspan><tspan x="0" y="100.5">KOORDINATNOM</tspan><tspan x="0" y="115">SUSTAVU 0XYZ, TAKO</tspan><tspan x="0" y="129">DA RAZDJELNA PLOHA</tspan><tspan x="0" y="143">LEŽI U RAVNINI 0XY</tspan></text></g>
<g id="n1"><rect class="n" x="228" y="1592" width="65" height="141"/><text class="t" transform="translate(0,1728) rotate(-90) scale(.82,1)" y="241">1.</text><text class="t" transform="translate(0,1723) rotate(-90) scale(.82,1)"><tspan x="0" y="257">ANALIZA GEOMETRIJE</tspan><tspan x="0" y="271">OTPRESKA</tspan><tspan x="0" y="285">LISTA OTPRESKA</tspan></text></g>
</svg>
